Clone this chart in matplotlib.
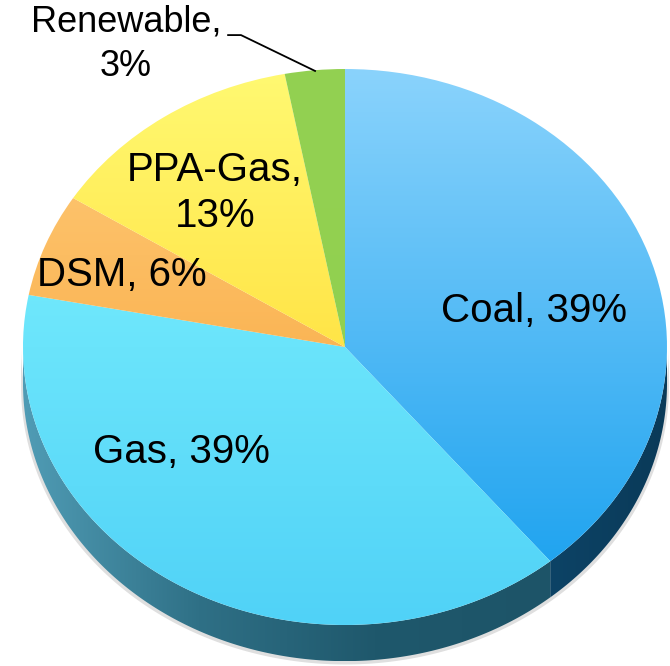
import matplotlib.pyplot as plt
import numpy as np
from matplotlib.colors import LinearSegmentedColormap

labels = ["Coal, 39%", "Gas, 39%", "DSM, 6%", "PPA-Gas,\n13%", "Renewable,\n3%"]
shares = [39, 39, 6, 13, 3]

# top/bottom colours of each slice's vertical gradient
top_cols = ["#8AD3FC", "#84F6FF", "#FFCD7C", "#FFF972", "#93D152"]
bot_cols = ["#139EEE", "#50D2F7", "#F69D2E", "#FFD01C", "#90CF4E"]
# side wall colour stops, left to right
wall_cols = [["#0D4366", "#0A3A58"],
             ["#509CB5", "#2F7086", "#1F586C", "#1D5468"],
             ["#C07020", "#A05810"], ["#D0A010", "#B08000"], ["#6A9A30", "#5A8A28"]]

# label placement, in axes data units, plus per-label font size / spacing
label_pos = [(0.587, 0.129), (-0.509, -0.378), (-0.693, 0.259),
             (-0.404, 0.554), (-0.680, 1.090)]
label_size = [29, 29, 29, 29, 26]
label_spacing = [1.0, 1.0, 1.0, 1.27, 1.36]

depth = 0.13  # thickness of the disc

plt.rcParams['font.family'] = ['Liberation Sans', 'DejaVu Sans']
fig = plt.figure(figsize=(6.70, 6.66), dpi=100)
ax = fig.add_axes([0, 0, 1, 1])

wedges, _ = ax.pie(shares, startangle=90, counterclock=False, radius=1,
                   wedgeprops=dict(linewidth=0))
ax.set_aspect('auto')

# soft shadow + side wall, only for the front (lower) half
t_all = np.linspace(-np.pi, 0, 300)
ax.fill(np.r_[np.cos(t_all) * 1.006, np.cos(t_all[::-1]) * 1.006],
        np.r_[np.sin(t_all), np.sin(t_all[::-1]) - depth - 0.012],
        color="#b8b8b8", alpha=0.45, lw=0, zorder=0.5)

for w, stops in zip(wedges, wall_cols):
    a1, a2 = sorted([w.theta1, w.theta2])
    lo, hi = max(a1, -180), min(a2, 0)
    # pie angles may be shifted by 360
    if hi <= lo:
        a1, a2 = a1 - 360, a2 - 360
        lo, hi = max(a1, -180), min(a2, 0)
    if hi <= lo:
        continue
    t = np.radians(np.linspace(lo, hi, 200))
    xs = np.r_[np.cos(t), np.cos(t[::-1])]
    ys = np.r_[np.sin(t), np.sin(t[::-1]) - depth]
    poly = ax.fill(xs, ys, color="none", lw=0, zorder=1)[0]
    cmap = LinearSegmentedColormap.from_list("w", stops)
    grad = np.linspace(0, 1, 256).reshape(1, -1)
    im = ax.imshow(grad, cmap=cmap, aspect='auto', zorder=1,
                   extent=(np.cos(t).min(), np.cos(t).max(), -1 - depth, 0.2))
    im.set_clip_path(poly)

# vertical gradient on each top-face slice
for w, c0, c1 in zip(wedges, top_cols, bot_cols):
    w.set_facecolor("none")
    w.set_zorder(2)
    cmap = LinearSegmentedColormap.from_list("s", [c1, c0])
    grad = np.linspace(0, 1, 256).reshape(-1, 1)
    im = ax.imshow(grad, cmap=cmap, aspect='auto', origin='lower', zorder=2,
                   extent=(-1, 1, -1, 1))
    im.set_clip_path(w)

for lab, (x, y), fs, ls in zip(labels, label_pos, label_size, label_spacing):
    ax.text(x, y, lab, ha='center', va='center', fontsize=fs,
            linespacing=ls, zorder=5)

# leader line for the small slice
ax.plot([-0.363, -0.323, -0.093], [1.122, 1.122, 0.993], color='black',
        lw=1.3, zorder=5)

ax.set_xlim(-1.0714, 1.0093)
ax.set_ylim(-1.1475, 1.2482)
ax.axis('off')

fig.savefig("out.png", dpi=100)
